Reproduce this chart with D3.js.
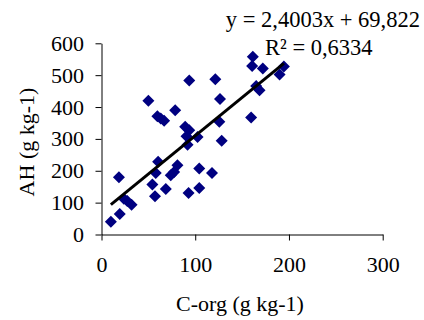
<!DOCTYPE html>
<html>
<head>
<meta charset="utf-8">
<script src="https://cdn.jsdelivr.net/npm/d3@7"></script>
<style>
  body { margin: 0; background: #fff; }
  text { font-family: "Liberation Serif", "Times New Roman", serif; }
</style>
</head>
<body>
<script>
var w = 424;
var h = 320;

// C-org (g kg-1) and AH (g kg-1)
var cOrg = [10, 19.5, 18.6, 23.9, 27.5, 32.1, 50, 54.3, 57.1, 57.9, 60.4, 59.6, 63.2, 66.8,
            68.6, 73.9, 77.5, 81, 78.6, 89.3, 93.6, 90.7, 91.8, 93.6, 92.9, 102.5, 104.3,
            104.3, 117.9, 121.4, 126.4, 125.7, 128.2, 159.6, 161.4, 160.7, 172.1, 168.6,
            165, 190, 194.6];
var ah = [40, 64, 180, 112, 105, 93, 420, 157, 120, 193, 228, 371, 364, 357,
          143, 186, 196, 217, 390, 338, 327, 308, 282, 483, 130, 306, 207,
          146, 193, 487, 425, 354, 294, 367, 558, 529, 521, 453,
          466, 502, 527];

var xTicks = [0, 100, 200, 300];
var yTicks = [0, 100, 200, 300, 400, 500, 600];

var slope = 2.4003;
var intercept = 69.822;
var eqLabel = "y = 2,4003x + 69,822";
var r2Label = "R\u00B2 = 0,6334";

var xScale = d3.scaleLinear()
    .domain([0, 300])
    .range([101.5, 382.7]);

var yScale = d3.scaleLinear()
    .domain([0, 600])
    .range([234.5, 43.3]);

var svg = d3.select("body")
    .append("svg")
    .attr("width", w)
    .attr("height", h);

var xAxis = d3.axisBottom(xScale)
    .tickValues(xTicks)
    .tickSize(6)
    .tickSizeOuter(0)
    .tickPadding(16)
    .tickFormat(d3.format("d"));

var yAxis = d3.axisLeft(yScale)
    .tickValues(yTicks)
    .tickSize(6)
    .tickSizeOuter(0)
    .tickPadding(11.5)
    .tickFormat(d3.format("d"));

svg.append("g")
    .attr("transform", "translate(0," + yScale(0) + ")")
    .call(xAxis);

svg.append("g")
    .attr("transform", "translate(" + xScale(0) + ",0)")
    .call(yAxis);

svg.selectAll(".tick text")
    .style("font-family", "'Liberation Serif', 'Times New Roman', serif")
    .attr("font-size", 22)
    .attr("fill", "#000");

svg.selectAll(".domain, .tick line")
    .attr("stroke", "#000")
    .attr("stroke-width", 1);

// points
var diamond = d3.symbol().type(d3.symbolSquare).size(72);

svg.selectAll("path.pt")
    .data(cOrg)
    .enter()
    .append("path")
    .attr("class", "pt")
    .attr("d", diamond)
    .attr("fill", "#000080")
    .attr("transform", function(d, i) {
        return "translate(" + xScale(d) + "," + yScale(ah[i]) + ") rotate(45)";
    });

// trend line
var xMin = d3.min(cOrg);
var xMax = d3.max(cOrg);
svg.append("line")
    .attr("x1", xScale(xMin))
    .attr("y1", yScale(slope * xMin + intercept))
    .attr("x2", xScale(xMax))
    .attr("y2", yScale(slope * xMax + intercept))
    .attr("stroke", "#000")
    .attr("stroke-width", 3);

// labels
svg.append("text")
    .text(eqLabel)
    .attr("x", 420)
    .attr("y", 27)
    .attr("text-anchor", "end")
    .attr("font-size", 22.5)
    .attr("fill", "#000");

svg.append("text")
    .text(r2Label)
    .attr("x", 265)
    .attr("y", 55)
    .attr("font-size", 22.5)
    .attr("fill", "#000");

svg.append("text")
    .text("C-org (g kg-1)")
    .attr("x", 240)
    .attr("y", 311)
    .attr("text-anchor", "middle")
    .attr("font-size", 22)
    .attr("fill", "#000");

svg.append("text")
    .text("AH (g kg-1)")
    .attr("transform", "translate(34,142) rotate(-90)")
    .attr("text-anchor", "middle")
    .attr("font-size", 22)
    .attr("fill", "#000");
</script>
</body>
</html>
